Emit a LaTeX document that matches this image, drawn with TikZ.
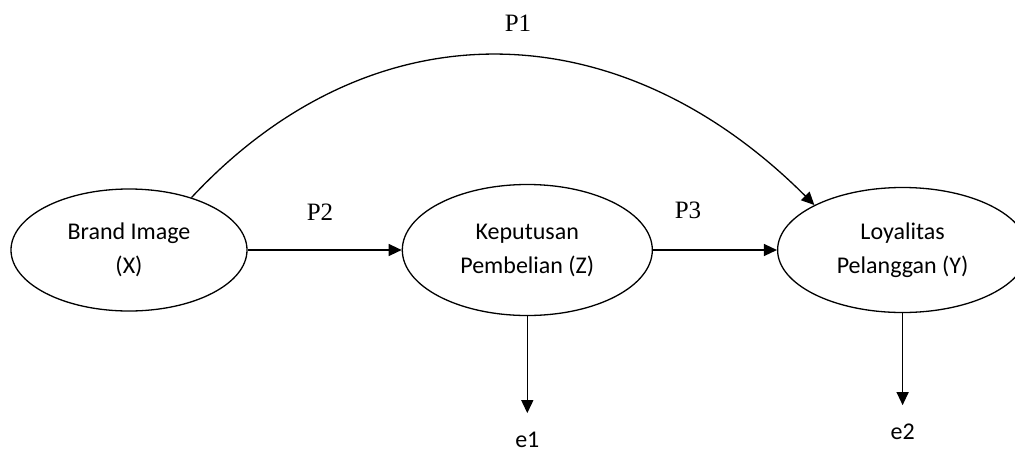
\documentclass[tikz,border=0pt]{standalone}
\usepackage{fontspec}
\setmainfont{Carlito}
\newfontfamily\pathfont{Liberation Serif}
\usetikzlibrary{shapes.geometric, arrows.meta, positioning}

\begin{document}
\begin{tikzpicture}[x=0.5pt, y=-0.5pt,
    var/.style={draw, ellipse, line width=0.65pt, inner sep=0pt, align=center,
                font=\fontsize{12}{17}\selectfont},
    link/.style={line width=0.65pt, -{Triangle[length=6.5pt, width=6pt]}},
    plabel/.style={font=\pathfont\fontsize{12.5}{15}\selectfont},
    elabel/.style={inner ysep=9pt, font=\fontsize{12}{14}\selectfont}]
  \useasboundingbox (0,0) rectangle (1015,455);
  \node[var, minimum width=118pt, minimum height=61pt] (x) at (129,250) {Brand Image\\(X)};
  \node[var, minimum width=125pt, minimum height=65.5pt, right=77pt of x] (z) {Keputusan\\Pembelian (Z)};
  \node[var, minimum width=125pt, minimum height=62.5pt, right=62pt of z] (y) {Loyalitas\\Pelanggan (Y)};
  \node[elabel, below=48.5pt of z] (e1) {e1};
  \node[elabel, below=46pt of y] (e2) {e2};
  \node[plabel] (p1) at (518,23) {P1};
  \node[plabel] (p2) at (320,212) {P2};
  \node[plabel] (p3) at (688,210) {P3};
  \draw[link] (x) -- (z);
  \draw[link] (z) -- (y);
  \draw[link] (x.40) .. controls +(47:133pt) and +(135:138pt) .. (y.153);
  \draw[link] (z) -- (e1);
  \draw[link] (y) -- (e2);
\end{tikzpicture}
\end{document}
